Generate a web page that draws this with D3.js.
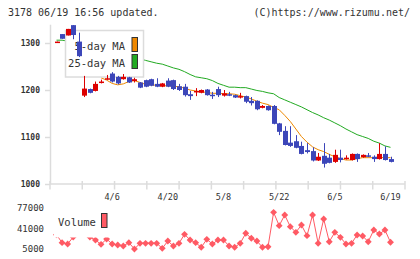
<!DOCTYPE html>
<html><head><meta charset="utf-8">
<script src="https://cdn.jsdelivr.net/npm/d3@7"></script>
<style>html,body{margin:0;padding:0;background:#fff;}svg{display:block;}</style>
</head><body>
<script>
const openV  = [1301,1319,1316,1338,1303,1188,1202,1198,1216,1223,1235,1228,1223,1227,1219,1216,1221,1223,1213,1207,1220,1221,1208,1207,1191,1196,1194,1201,1190,1202,1188,1191,1189,1184,1187,1177,1177,1162,1166,1166,1129,1113,1088,1091,1081,1072,1070,1050,1060,1056,1047,1056,1054,1051,1064,1057,1061,1058,1053,1064,1053];
const highV  = [1303,1319,1330,1338,1322,1230,1203,1218,1222,1232,1238,1230,1234,1228,1226,1217,1222,1224,1225,1215,1225,1222,1213,1213,1198,1204,1201,1202,1196,1207,1200,1196,1190,1194,1188,1185,1178,1168,1167,1168,1130,1123,1123,1104,1090,1087,1078,1066,1087,1064,1073,1073,1061,1065,1065,1063,1066,1061,1087,1080,1058];
const lowV   = [1301,1309,1316,1308,1270,1185,1193,1197,1214,1222,1216,1212,1222,1215,1216,1204,1206,1208,1206,1206,1206,1200,1198,1186,1179,1187,1193,1188,1181,1185,1186,1187,1183,1182,1172,1167,1157,1161,1156,1127,1104,1082,1079,1076,1063,1065,1048,1049,1035,1044,1045,1046,1052,1050,1047,1056,1057,1047,1052,1050,1046];
const closeV = [1303,1309,1330,1317,1272,1203,1194,1213,1218,1225,1218,1214,1228,1216,1223,1205,1207,1209,1207,1214,1207,1202,1200,1189,1187,1198,1200,1189,1188,1189,1193,1188,1184,1187,1175,1172,1159,1166,1157,1128,1111,1083,1081,1077,1064,1068,1050,1058,1043,1045,1062,1051,1056,1064,1053,1062,1060,1053,1064,1051,1047];
const ma5 = [null,null,null,null,null,null,null,null,1226,1221,1214,1211,1213,1218,1220,1216,1212,1211,1210,1209,1209,1208,1207,1204,1200,1198,1196,1195,1193,1193,1192,1192,1191,1188,1185,1181,1176,1172,1169,1163,1158,1146,1133,1117,1101,1089,1079,1073,1069,1063,1058,1054,1051,1051,1054,1056,1056,1056,1057,1056,1056];
const ma25 = [1306,1306,1304,1302,1299,1296,1293,1290,1287,1284,1281,1278,1275,1272,1269,1266,1263,1260,1257,1255,1251,1247,1244,1239,1233,1228,1226,1224,1220,1214,1210,1206,1206,1205,1205,1202,1199,1197,1194,1192,1184,1179,1174,1169,1164,1158,1152,1147,1141,1136,1130,1124,1117,1111,1105,1101,1097,1091,1087,1081,1078];
const volume = [30000,16100,13800,26000,70000,45000,26000,20800,13200,22600,13800,12000,10300,16100,5000,15000,15000,15000,15000,6200,19000,10300,15000,30800,20800,16100,8000,22000,13800,20800,20800,10300,8000,15000,32600,23800,19000,8000,9000,69400,46000,64700,44200,34300,47100,28400,64700,15000,57700,17800,34300,25500,13800,15000,29600,27800,17800,38400,31300,38400,16800];
const dateLabels = ["4/6","4/20","5/8","5/22","6/5","6/19"];
const dateLabelIdx = [10,20,30,40,50,60];
const priceTicks = [1000,1100,1200,1300];
const volTicks = [5000,41000,77000];

const W=420,H=259;
const svg=d3.select("body").append("svg").attr("width",W).attr("height",H);
const mono="'DejaVu Sans Mono', monospace";
const UP="#dd0000", DOWN="#3c46b9", GRID="#dcdcdc", VOLC="#ff5a64";

const x=d3.scaleLinear().domain([0,60]).range([56.5,390.5]);
const y=d3.scaleLinear().domain([1000,1340]).range([184,24.2]);
const yv=d3.scaleLinear().domain([5000,77000]).range([249,208]);
const gx=d3.scaleLinear().domain([0,11]).range([50,405]);

svg.append("text").attr("x",8).attr("y",16).attr("font-family",mono).attr("font-size",10).attr("fill","#333").text("3178 06/19 16:56 updated.");
svg.append("text").attr("x",410).attr("y",16).attr("text-anchor","end").attr("font-family",mono).attr("font-size",10).attr("fill","#333").text("(C)https://www.rizumu.net/");

const ya=svg.append("g").attr("transform","translate(50,0)")
  .call(d3.axisLeft(y).tickValues(priceTicks).tickSize(5).tickSizeOuter(0).tickPadding(5).tickFormat(d3.format("d")));
ya.select(".domain").attr("stroke",GRID).attr("stroke-width",1.5);
ya.selectAll(".tick line").attr("stroke",GRID).attr("stroke-width",1.5);
ya.selectAll(".tick text").attr("font-family",mono).attr("font-size",8).attr("fill","#333").attr("font-weight","bold");

svg.append("line").attr("x1",gx(0)).attr("x2",gx(11)).attr("y1",184).attr("y2",184).attr("stroke",GRID).attr("stroke-width",1.5);
svg.append("g").selectAll("line").data(d3.range(0,12)).join("line")
  .attr("x1",d=>gx(d)).attr("x2",d=>gx(d)).attr("y1",181).attr("y2",189.5).attr("stroke",GRID).attr("stroke-width",1.5);
svg.append("g").selectAll("text").data(dateLabels).join("text")
  .attr("x",(d,i)=>x(dateLabelIdx[i])).attr("y",200).attr("text-anchor","middle")
  .attr("font-family",mono).attr("font-size",8.5).attr("fill","#333").text(d=>d);

const line=d3.line().defined(d=>d!=null).x((d,i)=>x(i)).y(d=>y(d));
svg.append("path").datum(ma25).attr("d",line).attr("fill","none").attr("stroke","#22aa22").attr("stroke-width",1);
svg.append("path").datum(ma5).attr("d",line).attr("fill","none").attr("stroke","#ee8800").attr("stroke-width",1);

const lg=svg.append("g");
lg.append("rect").attr("x",65.5).attr("y",30.5).attr("width",78).attr("height",46.5).attr("fill","#fff").attr("stroke",GRID).attr("stroke-width",1.5);
lg.append("text").attr("x",125).attr("y",50).attr("text-anchor","end").attr("font-family",mono).attr("font-size",10.5).attr("fill","#333").text("5-day MA");
lg.append("text").attr("x",125).attr("y",67).attr("text-anchor","end").attr("font-family",mono).attr("font-size",10.5).attr("fill","#333").text("25-day MA");
lg.append("rect").attr("x",132).attr("y",37.5).attr("width",5.5).attr("height",14).attr("fill","#ee8800").attr("stroke","#333");
lg.append("rect").attr("x",132).attr("y",54.5).attr("width",5.5).attr("height",14).attr("fill","#22aa22").attr("stroke","#333");

const cg=svg.append("g");
const idx=d3.range(openV.length);
cg.selectAll("line").data(idx).join("line")
  .attr("x1",i=>Math.round(x(i))+0.5).attr("x2",i=>Math.round(x(i))+0.5)
  .attr("y1",i=>y(highV[i])).attr("y2",i=>y(lowV[i]))
  .attr("stroke",i=>closeV[i]>=openV[i]?UP:DOWN).attr("stroke-width",1);
cg.selectAll("rect").data(idx).join("rect")
  .attr("x",i=>Math.round(x(i))-2).attr("width",5)
  .attr("y",i=>y(Math.max(openV[i],closeV[i])))
  .attr("height",i=>Math.max(1.5,Math.abs(y(openV[i])-y(closeV[i]))))
  .attr("fill",i=>closeV[i]>=openV[i]?UP:DOWN);

const vy=svg.append("g");
vy.selectAll("text").data(volTicks).join("text")
  .attr("x",44).attr("y",d=>yv(d)+3).attr("text-anchor","end")
  .attr("font-family",mono).attr("font-size",9).attr("fill","#333").text(d=>d);
const vline=d3.line().x((d,i)=>x(i)).y(d=>yv(d));
svg.append("path").datum(volume).attr("d",vline).attr("fill","none").attr("stroke",VOLC).attr("stroke-width",1);
svg.append("g").selectAll("path").data(volume).join("path")
  .attr("d",d3.symbol().type(d3.symbolDiamond2).size(30))
  .attr("transform",(d,i)=>`translate(${x(i)},${yv(d)})`).attr("fill",VOLC);
svg.append("rect").attr("x",54).attr("y",205).attr("width",57).attr("height",32.5).attr("fill","#fff");
svg.append("text").attr("x",58).attr("y",226).attr("font-family",mono).attr("font-size",10.5).attr("fill","#333").text("Volume");
svg.append("rect").attr("x",101.5).attr("y",213.5).attr("width",5.5).attr("height",14).attr("fill",VOLC).attr("stroke","#333");
</script>
</body></html>
